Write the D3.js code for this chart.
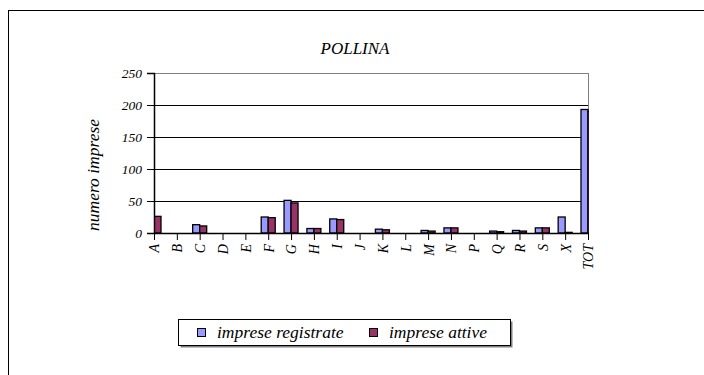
<!DOCTYPE html>
<html><head><meta charset="utf-8">
<script src="https://cdn.jsdelivr.net/npm/d3@7"></script>
<style>
html,body{margin:0;padding:0;background:#fff;}
svg{display:block;}
</style></head>
<body>
<svg id="c" width="704" height="375"></svg>
<script>
const categories = ["A","B","C","D","E","F","G","H","I","J","K","L","M","N","P","Q","R","S","X","TOT"];
const registrate = [26,0,13,0,0,25,51,7,22,0,6,0,4,8,0,3,4,8,25,193];
const attive     = [26,0,11,0,0,24,47,7,21,0,5,0,3,8,0,2,3,8,1,190];
const seriesNames = ["imprese registrate","imprese attive"];
const seriesColors = ["#9999FF","#993366"];
const yTicks = [0,50,100,150,200,250];
const title = "POLLINA";
const yTitle = "numero imprese";

const svg = d3.select("#c");
const L = 154, R = 588, T = 73, B = 233;
const FF = "'Liberation Serif'";

svg.append("rect").attr("x",8.5).attr("y",10.5).attr("width",720).attr("height",400)
  .attr("fill","none").attr("stroke","#000").attr("stroke-width",1);

const x = d3.scalePoint().domain(categories).range([L,R]);
const y = d3.scaleLinear().domain([0,250]).range([B,T]);
const inner = d3.scaleBand().domain([0,1]).range([-7,7]).padding(0);

svg.append("g").selectAll("line").data(yTicks.filter(d=>d>0)).join("line")
  .attr("x1",L).attr("x2",R)
  .attr("y1",d=>Math.round(y(d))+0.5).attr("y2",d=>Math.round(y(d))+0.5)
  .attr("stroke",d=>d===250?"#808080":"#000").attr("stroke-width",1);
svg.append("line").attr("x1",R+0.5).attr("x2",R+0.5).attr("y1",T).attr("y2",B)
  .attr("stroke","#808080");

svg.append("clipPath").attr("id","clip").append("rect")
  .attr("x",L).attr("y",T-1).attr("width",R-L+1).attr("height",B-T+1);

const data = categories.map((c,i)=>({c, v:[registrate[i],attive[i]]}));
const bars = svg.append("g").attr("clip-path","url(#clip)");
bars.selectAll("g").data(data).join("g")
  .attr("transform",d=>`translate(${x(d.c)},0)`)
  .selectAll("rect").data(d=>d.v.map((v,k)=>({v,k}))).join("rect")
  .attr("x",d=>inner(d.k)).attr("width",inner.bandwidth())
  .attr("y",d=>y(d.v)).attr("height",d=>B-y(d.v))
  .attr("fill",d=>seriesColors[d.k]).attr("stroke","#000").attr("stroke-width",1.3)
  .attr("display",d=>d.v>0?null:"none");

const ya = svg.append("g").attr("transform",`translate(${L},0)`)
  .call(d3.axisLeft(y).tickValues(yTicks).tickSize(7).tickPadding(5));
ya.select(".domain").attr("stroke","#000").attr("stroke-width",1.5);
ya.selectAll(".tick line").attr("stroke","#000");
ya.selectAll(".tick text").style("font-size","13.5px").style("font-family",FF).style("font-style","italic");

const xa = svg.append("g").attr("transform",`translate(0,${B})`)
  .call(d3.axisBottom(x).tickSize(7).tickPadding(3).tickSizeOuter(0));
xa.select(".domain").attr("stroke","#000").attr("stroke-width",1.5);
xa.selectAll(".tick line").attr("stroke","#000");
xa.selectAll(".tick text").style("font-size","14px").style("font-family",FF).style("font-style","italic")
  .attr("transform","rotate(-90)").attr("text-anchor","end").attr("dy","0.35em").attr("x",-11).attr("y",0);

svg.append("text").attr("x",355).attr("y",54).attr("text-anchor","middle")
  .style("font-size","17px").style("font-family",FF).style("font-style","italic").text(title);
svg.append("text").attr("transform",`translate(99,175) rotate(-90)`).attr("text-anchor","middle")
  .style("font-size","17.5px").style("font-family",FF).style("font-style","italic").text(yTitle);

const lg = svg.append("g");
lg.append("rect").attr("x",180.5).attr("y",321.5).attr("width",332).attr("height",26).attr("fill","#808080");
lg.append("rect").attr("x",178.5).attr("y",319.5).attr("width",332).attr("height",26).attr("fill","#fff").attr("stroke","#000");
const lx = [197,369];
seriesNames.forEach((n,i)=>{
  lg.append("rect").attr("x",lx[i]+0.5).attr("y",328.5).attr("width",8).attr("height",8)
    .attr("fill",seriesColors[i]).attr("stroke","#000");
  lg.append("text").attr("x",lx[i]+20).attr("y",338).style("font-size","17.5px").style("font-family",FF).style("font-style","italic").text(n);
});
</script>
</body></html>
